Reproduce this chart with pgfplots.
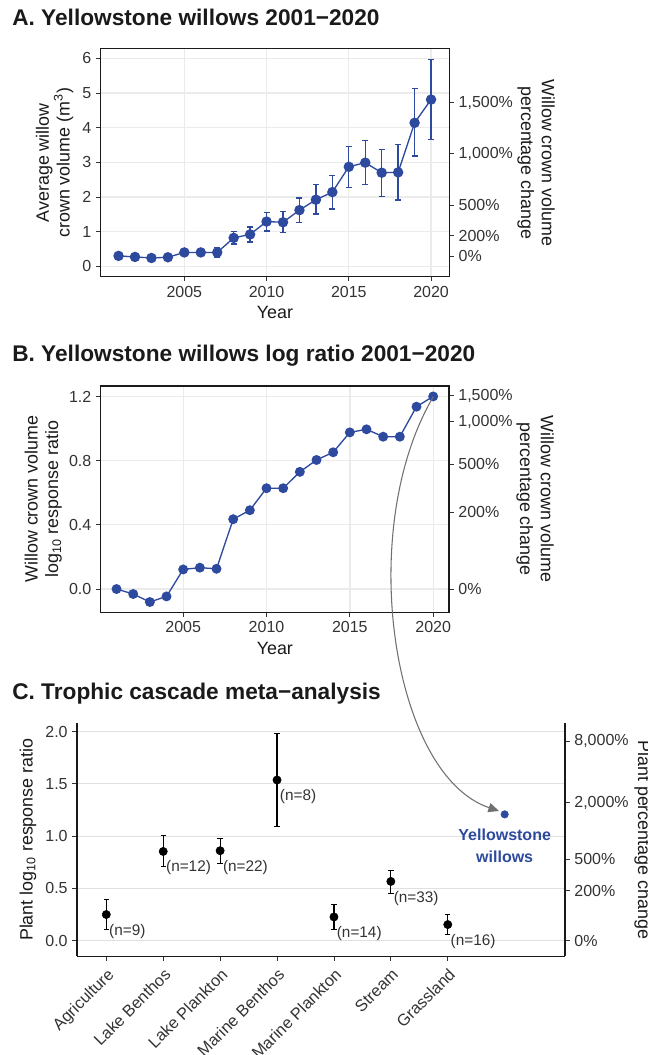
\documentclass[border=0pt]{standalone}
\usepackage{fontspec}
\setmainfont{Liberation Sans}
\usepackage{pgfplots}
\usepackage{pgfplotstable}
\pgfplotsset{compat=1.18}
\usetikzlibrary{arrows.meta}
\definecolor{wblue}{HTML}{2E4A9E}
\definecolor{gridc}{HTML}{EBEBEB}
\definecolor{gridd}{HTML}{E0E0E0}
\definecolor{tickc}{HTML}{333333}
\definecolor{labc}{HTML}{1A1A1A}
\definecolor{arrowc}{HTML}{707070}

\pgfplotstableread{
year y ep em
2001 0.30 0.05 0.05
2002 0.27 0.05 0.05
2003 0.24 0.05 0.04
2004 0.26 0.05 0.05
2005 0.40 0.06 0.06
2006 0.40 0.07 0.07
2007 0.40 0.14 0.13
2008 0.82 0.19 0.18
2009 0.92 0.21 0.22
2010 1.29 0.26 0.27
2011 1.27 0.31 0.29
2012 1.62 0.35 0.36
2013 1.92 0.43 0.41
2014 2.14 0.48 0.49
2015 2.87 0.59 0.60
2016 2.99 0.64 0.64
2017 2.70 0.67 0.68
2018 2.71 0.81 0.80
2019 4.14 0.98 0.96
2020 4.81 1.15 1.15
}\tabA

\pgfplotstableread{
year lr
2001 0.000
2002 -0.031
2003 -0.081
2004 -0.046
2005 0.122
2006 0.133
2007 0.126
2008 0.435
2009 0.491
2010 0.628
2011 0.628
2012 0.730
2013 0.804
2014 0.852
2015 0.976
2016 0.995
2017 0.949
2018 0.949
2019 1.136
2020 1.200
}\tabB

\pgfplotstableread{
x y ep em
1 0.249 0.141 0.144
2 0.853 0.150 0.143
3 0.860 0.120 0.120
4 1.537 0.448 0.444
5 0.226 0.122 0.121
6 0.566 0.108 0.113
7 0.153 0.093 0.095
}\tabC

\pgfplotsset{
  every axis/.append style={
    scale only axis,
    tick align=outside,
    major tick length=3.5pt,
    tick style={color=tickc, line width=0.6pt},
    tick label style={font=\fontsize{12}{14}\selectfont, text=tickc},
    label style={font=\fontsize{13.4}{15.5}\selectfont, text=labc},
    axis line style={color=labc, line width=0.8pt},
  },
}

\begin{document}
\begin{tikzpicture}
\useasboundingbox (0,0) rectangle (485.25pt,791.25pt);

% ---------- Titles
\node[anchor=base west, inner sep=0, font=\fontsize{17}{20}\selectfont\bfseries, text=labc] at (9pt,771.75pt) {A. Yellowstone willows 2001−2020};
\node[anchor=base west, inner sep=0, font=\fontsize{17}{20}\selectfont\bfseries, text=labc] at (9pt,520pt) {B. Yellowstone willows log ratio 2001−2020};
\node[anchor=base west, inner sep=0, font=\fontsize{17}{20}\selectfont\bfseries, text=labc] at (9pt,266.8pt) {C. Trophic cascade meta−analysis};

% ---------- Panel A
\begin{axis}[at={(75.525pt,583.725pt)}, anchor=south west, width=261.45pt, height=170.8pt,
  xmin=1999.915, xmax=2021.11, ymin=-0.3, ymax=6.27,
  xtick={2005,2010,2015,2020}, xticklabels={2005,2010,2015,2020},
  ytick={0,1,2,3,4,5,6}, yticklabels={0,1,2,3,4,5,6},
  xtick pos=bottom, ytick pos=left,
  grid=major, grid style={gridc, line width=1pt},
  xlabel={Year}, ylabel={Average willow\\crown volume (m\textsuperscript{3})},
  ylabel style={align=center},
]
\addplot[wblue, line width=1pt, mark=*, mark size=3.4pt, mark options={fill=wblue, draw=wblue},
  error bars/.cd, y dir=both, y explicit,
  error bar style={line width=1pt, wblue},
  error mark options={rotate=90, mark size=2.25pt, line width=1pt, wblue}]
  table[x=year, y=y, y error plus=ep, y error minus=em] {\tabA};
\end{axis}
\begin{axis}[at={(75.525pt,583.725pt)}, anchor=south west, width=261.45pt, height=170.8pt,
  xmin=1999.915, xmax=2021.11, ymin=-0.3, ymax=6.27,
  hide x axis, axis y line*=right, axis line style={-},
  ytick pos=right, yticklabel pos=right,
  ytick={0.295,0.885,1.77,3.245,4.72},
  yticklabels={0\%,200\%,500\%,{1,000\%},{1,500\%}},
  ylabel={Willow crown volume\\percentage change},
  ylabel style={align=center, rotate=180}, ylabel shift=-3.5pt,
]
\addplot[draw=none] coordinates {(2001,0)};
\end{axis}

% ---------- Panel B
\begin{axis}[at={(75.525pt,332.025pt)}, anchor=south west, width=261.225pt, height=169.725pt,
  xmin=2000.05, xmax=2020.95, ymin=-0.145, ymax=1.265,
  xtick={2005,2010,2015,2020}, xticklabels={2005,2010,2015,2020},
  ytick={0,0.4,0.8,1.2}, yticklabels={0.0,0.4,0.8,1.2},
  xtick pos=bottom, ytick pos=left,
  grid=major, grid style={gridc, line width=1pt},
  xlabel={Year}, ylabel={Willow crown volume\\log\textsubscript{10} response ratio},
  ylabel style={align=center}, ylabel shift=-1.5pt,
]
\addplot[wblue, line width=1pt, mark=*, mark size=3.2pt, mark options={fill=wblue, draw=wblue}]
  table[x=year, y=lr] {\tabB};
\end{axis}
\begin{axis}[at={(75.525pt,332.025pt)}, anchor=south west, width=261.225pt, height=169.725pt,
  xmin=2000.05, xmax=2020.95, ymin=-0.145, ymax=1.265,
  hide x axis, axis y line*=right, axis line style={-},
  ytick pos=right, yticklabel pos=right,
  ytick={0,0.4771,0.7782,1.0414,1.2041},
  yticklabels={0\%,200\%,500\%,{1,000\%},{1,500\%}},
  ylabel={Willow crown volume\\percentage change},
  ylabel style={align=center, rotate=180}, ylabel shift=-4pt,
]
\addplot[draw=none] coordinates {(2001,0)};
\end{axis}

% ---------- Panel C
\begin{axis}[at={(57.75pt,74.1pt)}, anchor=south west, width=366pt, height=174.675pt,
  xmin=0.485, xmax=9.06, ymin=-0.15, ymax=2.08,
  axis x line*=bottom, axis y line*=left, axis line style={-},
  xtick pos=bottom, ytick pos=left,
  xtick={1,2,3,4,5,6,7},
  xticklabels={Agriculture, Lake Benthos, Lake Plankton, Marine Benthos, Marine Plankton, Stream, Grassland},
  xticklabel style={rotate=45, anchor=north east, font=\fontsize{12.3}{14}\selectfont},
  ytick={0,0.5,1,1.5,2}, yticklabels={0.0,0.5,1.0,1.5,2.0},
  ymajorgrids, grid style={gridd, line width=0.8pt},
  ylabel={Plant log\textsubscript{10} response ratio},
  clip=false,
]
\addplot[only marks, black, mark=*, mark size=3.1pt,
  error bars/.cd, y dir=both, y explicit,
  error bar style={line width=0.9pt, black},
  error mark options={rotate=90, mark size=2pt, line width=0.9pt, black}]
  table[x=x, y=y, y error plus=ep, y error minus=em] {\tabC};
\addplot[only marks, wblue, mark=*, mark size=2.8pt] coordinates {(8,1.208)};
\begin{scope}[every node/.style={anchor=west, inner sep=0, xshift=2pt, font=\fontsize{11.5}{13}\selectfont, text=tickc}]
\node at (axis cs:1,0.089) {(n=9)};
\node at (axis cs:2,0.695) {(n=12)};
\node at (axis cs:3,0.700) {(n=22)};
\node at (axis cs:4,1.380) {(n=8)};
\node at (axis cs:5,0.066) {(n=14)};
\node at (axis cs:6,0.406) {(n=33)};
\node at (axis cs:7,-0.007) {(n=16)};
\end{scope}
\node[align=center, font=\fontsize{12}{16.5}\selectfont\bfseries, text=wblue] at (axis cs:8,0.905) {Yellowstone\\willows};
\end{axis}
\begin{axis}[at={(57.75pt,74.1pt)}, anchor=south west, width=366pt, height=174.675pt,
  xmin=0.485, xmax=9.06, ymin=-0.15, ymax=2.08,
  hide x axis, axis y line*=right, axis line style={-},
  ytick pos=right, yticklabel pos=right,
  ytick={0,0.4771,0.7782,1.3222,1.9085},
  yticklabels={0\%,200\%,500\%,{2,000\%},{8,000\%}},
  ylabel={Plant percentage change},
  ylabel style={rotate=180}, ylabel shift=-2.5pt,
]
\addplot[draw=none] coordinates {(1,0)};
\end{axis}

% ---------- Curved arrow
\draw[arrowc, line width=0.8pt, -{Triangle[length=8pt, width=7pt]}]
  (324.98pt,493.73pt) .. controls (266.25pt,393.75pt) and (294pt,210pt) .. (374.25pt,183pt);
\end{tikzpicture}
\end{document}
